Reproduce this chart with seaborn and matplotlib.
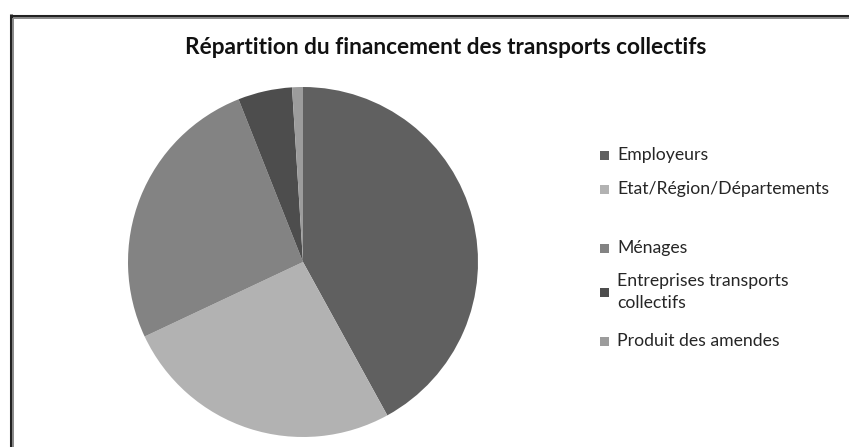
import matplotlib
matplotlib.use("Agg")
import matplotlib.pyplot as plt
from matplotlib.lines import Line2D
from matplotlib.patches import Rectangle
import seaborn as sns

sns.set_theme(style="white")
plt.rcParams["font.family"] = ["Lato", "DejaVu Sans"]

# Financing shares (%)
categories = ["Employeurs", "Etat/Région/Départements", "Ménages",
              "Entreprises transports\ncollectifs", "Produit des amendes"]
shares = [42, 26, 26, 5, 1]
colors = ["#606060", "#b2b2b2", "#838383", "#4d4d4d", "#9c9c9c"]

W, H = 849, 447
fig = plt.figure(figsize=(W / 100, H / 100), dpi=100)
fig.patch.set_facecolor("white")

# Pie axes: centre (303, 262) px, radius 175 px
cx, cy, r = 303, 262, 175
ax = fig.add_axes([(cx - r) / W, (H - cy - r) / H, 2 * r / W, 2 * r / H])
ax.pie(shares, colors=colors, startangle=90, counterclock=False,
       wedgeprops=dict(linewidth=0))
ax.set_xlim(-1, 1)
ax.set_ylim(-1, 1)
ax.set_aspect("auto")
ax.axis("off")

fig.text(445.5 / W, 1 - 48 / H, "Répartition du financement des transports collectifs",
         ha="center", va="center", fontsize=16.3, fontweight="bold", color="#111111")

# Legend entries
legend_y = [155, 189, 248, 292, 341]
for label, col, yy in zip(categories, colors, legend_y):
    fig.patches.append(Rectangle((600 / W, 1 - (yy + 4.5) / H), 9 / W, 9 / H,
                                 transform=fig.transFigure, facecolor=col,
                                 edgecolor="none"))
    fig.text(617 / W, 1 - yy / H, label, ha="left", va="center",
             fontsize=12.7, color="#262626", linespacing=1.45)

# Chart frame (left and top edges)
fig.add_artist(Line2D([10.5 / W, 10.5 / W], [0, 1 - 14 / H], transform=fig.transFigure,
                      color="#222222", linewidth=2.2, solid_capstyle="butt"))
fig.add_artist(Line2D([13.5 / W, 13.5 / W], [0, 1 - 17 / H], transform=fig.transFigure,
                      color="#8a8a8a", linewidth=1.4, solid_capstyle="butt"))
fig.add_artist(Line2D([9.5 / W, 1], [1 - 15.5 / H, 1 - 15.5 / H], transform=fig.transFigure,
                      color="#222222", linewidth=2.2, solid_capstyle="butt"))
fig.add_artist(Line2D([13 / W, 1], [1 - 18.3 / H, 1 - 18.3 / H], transform=fig.transFigure,
                      color="#8a8a8a", linewidth=1.4, solid_capstyle="butt"))

fig.savefig("out.png", dpi=100, facecolor="white")
